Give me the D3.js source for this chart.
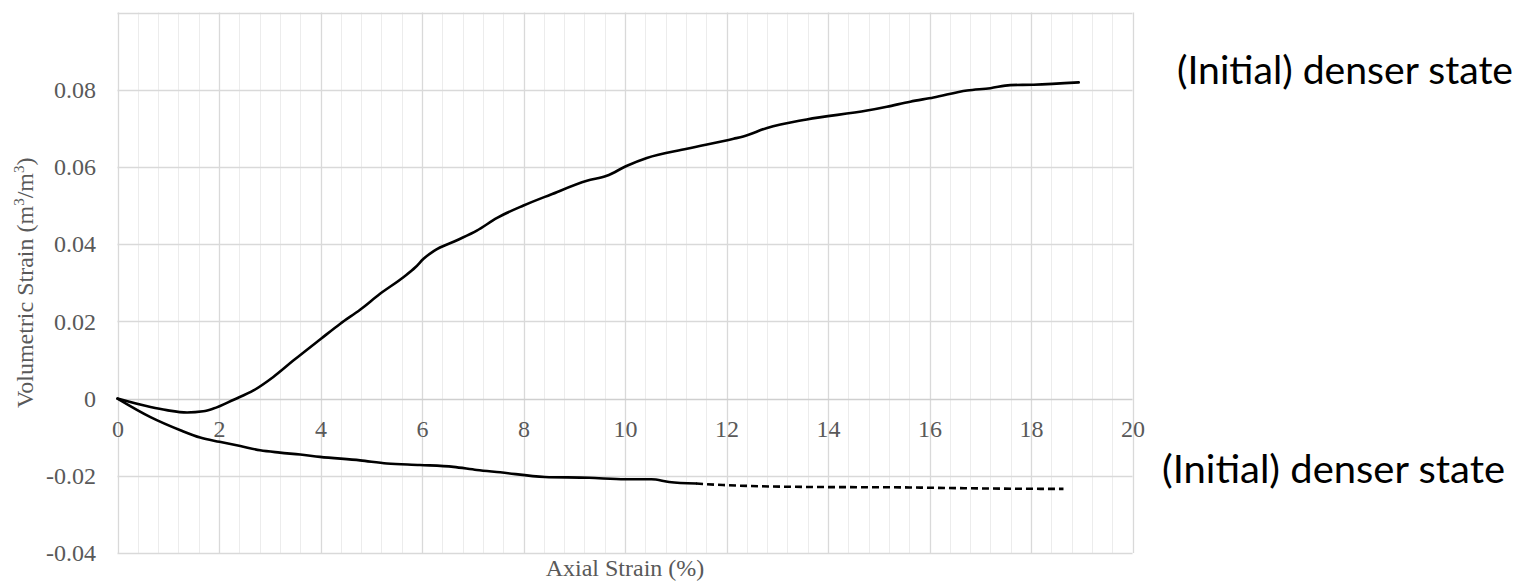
<!DOCTYPE html>
<html>
<head>
<meta charset="utf-8">
<script src="https://cdn.jsdelivr.net/npm/d3@7"></script>
<style>
  html, body { margin: 0; padding: 0; background: #fff; }
  svg { display: block; }
</style>
</head>
<body>
<svg id="chart" width="1527" height="582"></svg>
<script>
// Volumetric strain vs axial strain, two triaxial test curves

// Axis ticks
const xTicks = [0, 2, 4, 6, 8, 10, 12, 14, 16, 18, 20];
const yTicks = [-0.04, -0.02, 0, 0.02, 0.04, 0.06, 0.08];
const yTickText = ["-0.04", "-0.02", "0", "0.02", "0.04", "0.06", "0.08"];

// Upper curve: dilative response
const upperX = [0, 0.65, 0.97, 1.37, 1.69, 1.89, 2.29, 2.68, 3.07, 3.47, 4.01, 4.39, 4.78, 5.18,
  5.64, 5.87, 6.03, 6.23, 6.69, 7.08, 7.48, 8.0, 8.53, 9.25, 9.64, 10.04, 10.43, 11.22, 12.14,
  12.33, 12.8, 13.58, 14.77, 15.16, 15.62, 16.08, 16.74, 17.2, 17.59, 18.05, 18.94];
const upperY = [0, -0.0022, -0.003, -0.0036, -0.0033, -0.0026, -0.0003, 0.0021, 0.0056, 0.0099,
  0.0155, 0.0194, 0.0230, 0.0272, 0.0315, 0.0340, 0.0362, 0.0382, 0.0410, 0.0435, 0.0468, 0.0500,
  0.0528, 0.0564, 0.0577, 0.0603, 0.0623, 0.0647, 0.0673, 0.0679, 0.0701, 0.0723, 0.0746, 0.0756,
  0.0769, 0.0780, 0.0798, 0.0804, 0.0812, 0.0813, 0.0819];

// Lower curve: contractive response, measured part
const lowerX = [0, 0.65, 1.24, 1.63, 2.01, 2.42, 2.81, 3.2, 3.6, 3.99, 4.78, 5.31, 5.96, 6.62,
  7.08, 7.54, 8.42, 9.29, 10.0, 10.52, 10.87, 11.4];
const lowerY = [0, -0.0048, -0.0082, -0.0101, -0.0112, -0.0123, -0.0134, -0.014, -0.0145, -0.0151,
  -0.016, -0.0168, -0.0172, -0.0177, -0.0185, -0.0191, -0.0203, -0.0205, -0.0209, -0.0209,
  -0.0216, -0.022];

// Lower curve: extrapolated part (dashed)
const lowerDashX = [11.4, 11.93, 13.68, 15.43, 17.19, 18.64];
const lowerDashY = [-0.022, -0.0224, -0.0229, -0.023, -0.0233, -0.0234];

const labels = ["(Initial) denser state", "(Initial) denser state"];

const svg = d3.select("#chart");
const plotLeft = 117.5, plotRight = 1132.5, plotTop = 12.5, plotBottom = 553;

const x = d3.scaleLinear().domain([0, 20]).range([plotLeft, plotRight]);
const y = d3.scaleLinear().domain([-0.04, 0.1]).range([plotBottom, plotTop]);

const grid = svg.append("g");
// Minor vertical gridlines every 0.4
const minor = d3.range(0, 20.001, 0.4).filter(v => Math.abs(v / 2 - Math.round(v / 2)) > 1e-6);
grid.selectAll("line.minor").data(minor).join("line")
  .attr("x1", d => Math.round(x(d)) + 0.5).attr("x2", d => Math.round(x(d)) + 0.5)
  .attr("y1", plotTop).attr("y2", plotBottom)
  .attr("stroke", "#ececec").attr("stroke-width", 1);
// Major vertical gridlines
grid.selectAll("line.vmajor").data(xTicks).join("line")
  .attr("x1", d => Math.round(x(d)) + 0.5).attr("x2", d => Math.round(x(d)) + 0.5)
  .attr("y1", plotTop).attr("y2", plotBottom)
  .attr("stroke", "#d9d9d9").attr("stroke-width", 1.3);
// Horizontal gridlines
grid.selectAll("line.hmajor").data([...yTicks, 0.1]).join("line")
  .attr("x1", plotLeft).attr("x2", plotRight)
  .attr("y1", d => Math.round(y(d)) + 0.5).attr("y2", d => Math.round(y(d)) + 0.5)
  .attr("stroke", d => d === 0 ? "#cfcfcf" : "#d9d9d9").attr("stroke-width", 1.3);

// Tick labels
const tickFont = "'Liberation Serif', 'Times New Roman', serif";
const xAxis = d3.axisBottom(x).tickValues(xTicks).tickSize(0).tickPadding(0).tickFormat(d3.format("d"));
const gx = svg.append("g").attr("transform", `translate(0,${y(0)})`).call(xAxis);
gx.select(".domain").remove();
gx.selectAll("text")
  .attr("y", 38).attr("dy", null)
  .attr("font-family", tickFont).attr("font-size", 24).attr("fill", "#595959");

const yAxis = d3.axisLeft(y).tickValues(yTicks).tickSize(0).tickPadding(0)
  .tickFormat((d, i) => yTickText[i]);
const gy = svg.append("g").attr("transform", `translate(96,0)`).call(yAxis);
gy.select(".domain").remove();
gy.selectAll("text")
  .attr("font-family", tickFont).attr("font-size", 24).attr("fill", "#595959");

// Axis titles
svg.append("text")
  .attr("x", (plotLeft + plotRight) / 2).attr("y", 576)
  .attr("text-anchor", "middle")
  .attr("font-family", tickFont).attr("font-size", 24).attr("fill", "#595959")
  .text("Axial Strain (%)");

const yt = svg.append("text")
  .attr("transform", `translate(33,${(plotTop + plotBottom) / 2}) rotate(-90)`)
  .attr("text-anchor", "middle")
  .attr("font-family", tickFont).attr("font-size", 24).attr("fill", "#595959");
yt.append("tspan").text("Volumetric Strain (m");
yt.append("tspan").attr("dy", -9).attr("font-size", 15).text("3");
yt.append("tspan").attr("dy", 9).text("/m");
yt.append("tspan").attr("dy", -9).attr("font-size", 15).text("3");
yt.append("tspan").attr("dy", 9).text(")");

// Curves
const line = d3.line().x(d => x(d[0])).y(d => y(d[1])).curve(d3.curveMonotoneX);
const zip = (a, b) => a.map((v, i) => [v, b[i]]);

svg.append("path").datum(zip(upperX, upperY))
  .attr("d", line).attr("fill", "none").attr("stroke", "#000").attr("stroke-width", 2.6)
  .attr("stroke-linejoin", "round").attr("stroke-linecap", "round");
svg.append("path").datum(zip(lowerX, lowerY))
  .attr("d", line).attr("fill", "none").attr("stroke", "#000").attr("stroke-width", 2.6)
  .attr("stroke-linejoin", "round").attr("stroke-linecap", "round");
svg.append("path").datum(zip(lowerDashX, lowerDashY))
  .attr("d", line).attr("fill", "none").attr("stroke", "#000").attr("stroke-width", 2.6)
  .attr("stroke-dasharray", "7,4");

// Curve labels
const labelFont = "Lato, 'Open Sans', sans-serif";
svg.append("text").attr("x", 1177).attr("y", 84)
  .attr("font-family", labelFont).attr("font-size", 38).attr("fill", "#000")
  .attr("textLength", 336).attr("lengthAdjust", "spacingAndGlyphs")
  .text(labels[0]);
svg.append("text").attr("x", 1162).attr("y", 483)
  .attr("font-family", labelFont).attr("font-size", 38).attr("fill", "#000")
  .attr("textLength", 343).attr("lengthAdjust", "spacingAndGlyphs")
  .text(labels[1]);
</script>
</body>
</html>
